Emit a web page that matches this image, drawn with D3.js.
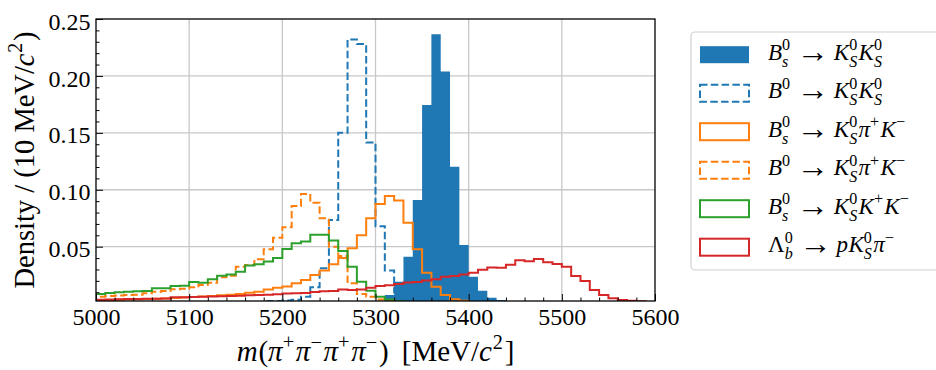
<!DOCTYPE html>
<html><head><meta charset="utf-8">
<script src="https://cdn.jsdelivr.net/npm/d3@7/dist/d3.min.js"></script>
<style>
html,body{margin:0;padding:0;background:#fff;}
svg{display:block;}
text{font-family:"Liberation Serif","DejaVu Serif",serif;fill:#000;}
</style></head>
<body><svg id="chart" width="936" height="370"></svg>
<script>
// ---- data (bin lower edges, MeV/c^2) ----
const binLow = [5000,5010,5020,5030,5040,5050,5060,5070,5080,5090,
  5100,5110,5120,5130,5140,5150,5160,5170,5180,5190,
  5200,5210,5220,5230,5240,5250,5260,5270,5280,5290,
  5300,5310,5320,5330,5340,5350,5360,5370,5380,5390,
  5400,5410,5420,5430,5440,5450,5460,5470,5480,5490,
  5500,5510,5520,5530,5540,5550,5560,5570,5580,5590];
const binWidth = 10;

const bsKsKs = [0,0,0,0,0,0,0,0,0,0, 0,0,0,0,0,0,0,0,0,0,
  0,0,0,0,0,0,0,0,0,0,
  0.0012,0.0075,0.0193,0.0412,0.0910,0.1745,0.2366,0.2038,0.1203,0.0515,
  0.0237,0.0114,0.0052,0.0032,0.0012,0,0,0,0,0,
  0,0,0,0,0,0,0,0,0,0];
const b0KsKs = [0,0,0,0,0,0,0,0,0,0, 0,0,0,0,0,0,0,0,0.0022,0.0024,
  0.0028,0.0033,0.0061,0.0143,0.0310,0.0735,0.1500,0.2320,0.2280,0.1415,
  0.0680,0.0290,0.0100,0.0040,0.0015,0,0,0,0,0,
  0,0,0,0,0,0,0,0,0,0, 0,0,0,0,0,0,0,0,0,0];
const bsKsPiK = [0.0030,0.0032,0.0034,0.0036,0.0038,0.0040,0.0043,0.0046,0.0050,0.0054,
  0.0058,0.0063,0.0068,0.0074,0.0079,0.0084,0.0096,0.0105,0.0125,0.0140,
  0.0150,0.0178,0.0207,0.0251,0.0290,0.0345,0.0400,0.0486,0.0600,0.0750,
  0.0875,0.0945,0.0905,0.0710,0.0477,0.0272,0.0149,0.0076,0.0038,0.0025,
  0.0015,0.0010,0,0,0,0,0,0,0,0, 0,0,0,0,0,0,0,0,0,0];
const b0KsPiK = [0.0061,0.0066,0.0072,0.0075,0.0078,0.0090,0.0105,0.0110,0.0126,0.0131,
  0.0143,0.0163,0.0184,0.0231,0.0245,0.0324,0.0339,0.0389,0.0477,0.0579,
  0.0670,0.0858,0.0963,0.0887,0.0750,0.0500,0.0418,0.0178,0.0084,0.0060,
  0.0036,0.0025,0.0015,0.0010,0,0,0,0,0,0,
  0,0,0,0,0,0,0,0,0,0, 0,0,0,0,0,0,0,0,0,0];
const bsKsKK = [0.0085,0.0093,0.0100,0.0105,0.0108,0.0110,0.0134,0.0134,0.0155,0.0157,
  0.0190,0.0184,0.0214,0.0245,0.0255,0.0280,0.0335,0.0345,0.0370,0.0400,
  0.0480,0.0530,0.0545,0.0605,0.0605,0.0555,0.0462,0.0324,0.0192,0.0113,
  0.0060,0.0036,0.0022,0.0015,0.0010,0,0,0,0,0,
  0,0,0,0,0,0,0,0,0,0, 0,0,0,0,0,0,0,0,0,0];
const lbPKsPi = [0.0035,0.0037,0.0038,0.0040,0.0040,0.0042,0.0043,0.0045,0.0055,0.0057,
  0.0058,0.0060,0.0062,0.0065,0.0068,0.0070,0.0073,0.0075,0.0078,0.0082,
  0.0088,0.0090,0.0093,0.0103,0.0108,0.0110,0.0123,0.0120,0.0125,0.0140,
  0.0155,0.0162,0.0172,0.0185,0.0190,0.0202,0.0215,0.0237,0.0243,0.0255,
  0.0272,0.0298,0.0318,0.0315,0.0342,0.0380,0.0372,0.0393,0.0363,0.0348,
  0.0324,0.0243,0.0199,0.0120,0.0076,0.0047,0.0032,0.0026,0.0020,0.0012];

const xTicks = [5000,5100,5200,5300,5400,5500,5600];
const yTicks = [0.05,0.10,0.15,0.20,0.25];
const xDomain = [5000,5600];
const yDomain = [0.0023,0.25];

// ---- layout ----
const L=96, R=655, T=19, B=301;
const svg = d3.select("#chart");
const x = d3.scaleLinear().domain(xDomain).range([L,R]);
const y = d3.scaleLinear().domain(yDomain).range([B,T]);

svg.append("defs").append("clipPath").attr("id","clip")
  .append("rect").attr("x",L).attr("y",T).attr("width",R-L).attr("height",B-T);

// grid
const grid = svg.append("g");
grid.selectAll(".gx").data(xTicks.filter(v=>v>xDomain[0]&&v<xDomain[1])).join("line")
  .attr("x1",d=>x(d)).attr("x2",d=>x(d)).attr("y1",T).attr("y2",B)
  .attr("stroke","#c8c8c8").attr("stroke-width",1.3);
grid.selectAll(".gy").data(yTicks.filter(v=>v<yDomain[1])).join("line")
  .attr("y1",d=>y(d)).attr("y2",d=>y(d)).attr("x1",L).attr("x2",R)
  .attr("stroke","#c8c8c8").attr("stroke-width",1.3);

const plot = svg.append("g").attr("clip-path","url(#clip)");

function stepPts(vals){
  const pts=[[binLow[0],0]];
  vals.forEach((v,i)=>pts.push([binLow[i],v]));
  pts.push([binLow[binLow.length-1]+binWidth, vals[vals.length-1]]);
  pts.push([binLow[binLow.length-1]+binWidth, 0]);
  return pts;
}
const line = d3.line().x(d=>x(d[0])).y(d=>y(d[1])).curve(d3.curveStepAfter);

// filled histogram (bars merged into one outline so no seams)
plot.append("path").attr("d", line(stepPts(bsKsKs)) + "Z")
  .attr("fill","#1f77b4").attr("stroke","none");

const series = [
  {vals:b0KsKs, color:"#1f77b4", dash:"7.5,3.3"},
  {vals:bsKsPiK, color:"#ff7f0e", dash:null},
  {vals:b0KsPiK, color:"#ff7f0e", dash:"7.5,3.3"},
  {vals:bsKsKK, color:"#2ca02c", dash:null},
  {vals:lbPKsPi, color:"#d62728", dash:null}
];
series.forEach(s=>{
  plot.append("path").attr("d",line(stepPts(s.vals)))
    .attr("fill","none").attr("stroke",s.color).attr("stroke-width",2)
    .attr("stroke-linejoin","miter").attr("stroke-dasharray",s.dash);
});

// axes
const xMinor = [5020,5040,5060,5080,5120,5140,5160,5180,5220,5240,5260,5280,5320,5340,5360,5380,5420,5440,5460,5480,5520,5540,5560,5580];
const yMinor = [0.01,0.02,0.03,0.04,0.06,0.07,0.08,0.09,0.11,0.12,0.13,0.14,0.16,0.17,0.18,0.19,0.21,0.22,0.23,0.24];
const gx = svg.append("g").attr("transform",`translate(0,${B})`)
  .call(d3.axisBottom(x).tickValues(xTicks).tickSize(-7).tickPadding(7).tickFormat(d3.format("d")));
svg.append("g").attr("transform",`translate(0,${B})`)
  .call(d3.axisBottom(x).tickValues(xMinor).tickSize(-3.5).tickFormat(""));
const gy = svg.append("g").attr("transform",`translate(${L},0)`)
  .call(d3.axisLeft(y).tickValues(yTicks).tickSize(-7).tickPadding(5.5).tickFormat(d3.format(".2f")));
svg.append("g").attr("transform",`translate(${L},0)`)
  .call(d3.axisLeft(y).tickValues(yMinor).tickSize(-3.5).tickFormat(""));
svg.selectAll(".domain").remove();
svg.selectAll(".tick line").attr("stroke","#000").attr("stroke-width",1);
gx.selectAll("text").attr("font-size",24).attr("font-family","Liberation Serif");
gy.selectAll("text").attr("font-size",24).attr("font-family","Liberation Serif").attr("dy","0.42em");

svg.append("rect").attr("x",L).attr("y",T).attr("width",R-L).attr("height",B-T)
  .attr("fill","none").attr("stroke","#000").attr("stroke-width",1.3);

// math text helper
function mathText(parent, tokens, size){
  const g = parent.append("g");
  let cx = 0;
  const mk = (str, it, sz, dy, fam) => {
    const t = g.append("text").attr("x",cx).attr("y",dy).attr("font-size",sz)
      .attr("font-style", it?"italic":"normal").text(str);
    if (fam) t.attr("font-family",fam);
    return t;
  };
  tokens.forEach(tk=>{
    if (tk.gap!==undefined){ cx += tk.gap*size; return; }
    if (tk.t!==undefined){ const t=mk(tk.t, tk.it, size*(tk.scale||1), (tk.dy||0)*size, tk.fam); cx += t.node().getComputedTextLength() + (tk.after||0)*size; return; }
    let w=0; const s2=size*0.7;
    if (tk.sup!==undefined){ const t=mk(tk.sup, tk.supIt, s2, -0.42*size); w=Math.max(w,t.node().getComputedTextLength()); }
    if (tk.sub!==undefined){ const t=mk(tk.sub, tk.subIt, s2, tk.sup!==undefined? 0.3*size : 0.22*size); w=Math.max(w,t.node().getComputedTextLength()); }
    cx += w + 0.06*size;
  });
  return {g, width:cx};
}

// x label
const xl = mathText(svg, [
  {t:"m",it:true,after:0.03},{t:"("},{t:"π",it:true},{sup:"+"},{t:"π",it:true},{sup:"−"},
  {t:"π",it:true},{sup:"+"},{t:"π",it:true},{sup:"−"},{t:")"},{gap:0.45},
  {t:"[MeV/"},{t:"c",it:true,after:0.03},{sup:"2"},{t:"]"}], 29);
xl.g.attr("transform",`translate(${(L+R)/2 - xl.width/2},361)`);

// y label
const yl = mathText(svg, [{t:"Density / (10 MeV/"},{t:"c",it:true,after:0.03},{sup:"2"},{t:")"}], 28.5);
yl.g.attr("transform",`translate(34,${(T+B)/2 + yl.width/2}) rotate(-90)`);

// legend
const lg = svg.append("g");
lg.append("rect").attr("x",691).attr("y",32).attr("width",300).attr("height",238)
  .attr("rx",4).attr("fill","#fff").attr("fill-opacity",0.8).attr("stroke","#d0d0d0").attr("stroke-width",1.2);
const S = (s)=>({sup:"0", sub:s, subIt:true});
const AR = [{gap:0.22},{t:"→",fam:"DejaVu Serif",scale:1.4,dy:0.09},{gap:0.22}];
const legendItems = [
  {fill:true, color:"#1f77b4", dash:null, tokens:[{t:"B",it:true},S("s"),...AR,{t:"K",it:true},S("S"),{t:"K",it:true},S("S")]},
  {fill:false, color:"#1f77b4", dash:"7.5,3.3", tokens:[{t:"B",it:true},{sup:"0"},...AR,{t:"K",it:true},S("S"),{t:"K",it:true},S("S")]},
  {fill:false, color:"#ff7f0e", dash:null, tokens:[{t:"B",it:true},S("s"),...AR,{t:"K",it:true},S("S"),{t:"π",it:true},{sup:"+"},{t:"K",it:true},{sup:"−"}]},
  {fill:false, color:"#ff7f0e", dash:"7.5,3.3", tokens:[{t:"B",it:true},{sup:"0"},...AR,{t:"K",it:true},S("S"),{t:"π",it:true},{sup:"+"},{t:"K",it:true},{sup:"−"}]},
  {fill:false, color:"#2ca02c", dash:null, tokens:[{t:"B",it:true},S("s"),...AR,{t:"K",it:true},S("S"),{t:"K",it:true},{sup:"+"},{t:"K",it:true},{sup:"−"}]},
  {fill:false, color:"#d62728", dash:null, tokens:[{t:"Λ"},{sup:"0",sub:"b",subIt:true},...AR,{t:"p",it:true,after:0.02},{t:"K",it:true},S("S"),{t:"π",it:true},{sup:"−"}]}
];
legendItems.forEach((it,i)=>{
  const cy = 54.7 + i*38.5;
  const r = lg.append("rect").attr("x",700).attr("y",cy-8.5).attr("width",49).attr("height",17);
  if (it.fill) r.attr("fill",it.color);
  else r.attr("fill","none").attr("stroke",it.color).attr("stroke-width",2).attr("stroke-dasharray",it.dash);
  const mt = mathText(lg, it.tokens, 23);
  mt.g.attr("transform",`translate(768,${cy+5})`);
});
</script>
</body></html>
